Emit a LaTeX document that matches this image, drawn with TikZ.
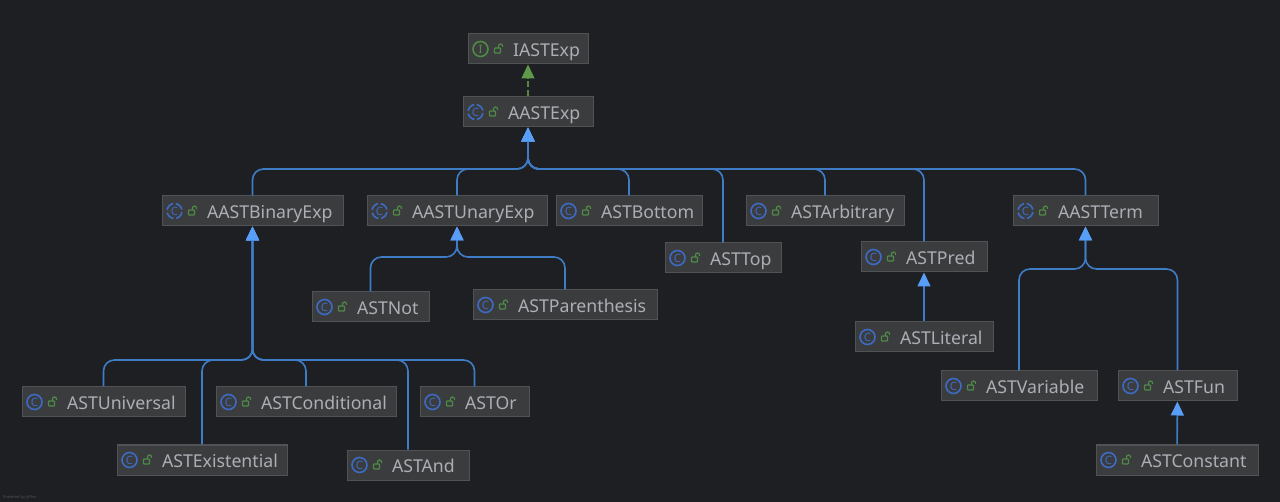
\documentclass[tikz,border=0pt]{standalone}
\usepackage{fontspec}
\setmainfont{Noto Sans}
\usepackage{xcolor}
\usetikzlibrary{arrows.meta,positioning,calc}
\definecolor{canvas}{HTML}{1E1F22}
\definecolor{boxfill}{HTML}{3B3C3E}
\definecolor{boxline}{HTML}{505256}
\definecolor{boxtext}{HTML}{ABAFB5}
\definecolor{edgeblue}{HTML}{3F7CC6}
\definecolor{tipblue}{HTML}{589DF6}
\definecolor{edgegreen}{HTML}{55853F}
\definecolor{tipgreen}{HTML}{5F9A4B}
\definecolor{iconblue}{HTML}{3D6BC4}
\definecolor{icongreen}{HTML}{4F8A46}
\tikzset{
  padlock/.pic={
    \draw[icongreen, line width=1.2pt, rounded corners=0.8pt] (-4,-1) rectangle (2,4);
    \draw[icongreen, line width=1.2pt] (0,-1) -- (0,-3) arc[start angle=180, end angle=360, radius=2] -- (4,-2);
  },
}
\begin{document}
\begin{tikzpicture}[
    x=1pt, y=-1pt,
    badge/.style={circle, draw=iconblue, text=iconblue, line width=1.6pt, inner sep=0pt, minimum size=15pt,
        font=\fontsize{11.5}{11.5}\selectfont\bfseries},
    classbox/.style={rectangle, draw=boxline, fill=boxfill, line width=1pt, inner xsep=0pt, inner ysep=0pt,
        minimum height=30pt, text height=16pt, text depth=1pt, text=boxtext,
        font=\fontsize{17.7}{20}\selectfont, execute at begin node=\hspace*{45pt}},
    extends/.style={draw=edgeblue, line width=1.6pt, rounded corners=11pt,
        -{Triangle[length=14pt, width=13pt, color=tipblue]}},
    implements/.style={draw=edgegreen, line width=1.4pt, dash pattern=on 6pt off 3pt,
        -{Triangle[length=14pt, width=13pt, color=tipgreen]}},
]
    \useasboundingbox[fill=canvas] (0,0) rectangle (1280,502);

    % Top of the hierarchy
    \node[classbox, text width=120pt] (iastexp) at (528,49) {IASTExp};
    \node[classbox, text width=130pt] (aastexp) at (528,112) {AASTExp};

    % Direct subclasses
    \node[classbox, text width=181pt] (binary) at (252.5,211) {AASTBinaryExp};
    \node[classbox, text width=180pt] (unary) at (457,211) {AASTUnaryExp};
    \node[classbox, text width=146pt] (bottom) at (629,211) {ASTBottom};
    \node[classbox, text width=116pt] (top) at (723,258) {ASTTop};
    \node[classbox, text width=158pt] (arbitrary) at (825,211) {ASTArbitrary};
    \node[classbox, text width=126pt] (pred) at (924,257) {ASTPred};
    \node[classbox, text width=145pt] (term) at (1085.5,211) {AASTTerm};

    % Subclasses of the binary expression
    \node[classbox, text width=163pt] (universal) at (103.5,402) {ASTUniversal};
    \node[classbox, text width=170pt] (existential) at (202,460) {ASTExistential};
    \node[classbox, text width=180pt] (conditional) at (306,402) {ASTConditional};
    \node[classbox, text width=122pt] (and) at (408,465) {ASTAnd};
    \node[classbox, text width=109pt] (or) at (474.5,402) {ASTOr};

    % Subclasses of the unary expression
    \node[classbox, text width=117pt] (not) at (370.5,307) {ASTNot};
    \node[classbox, text width=184pt] (parenthesis) at (565,305) {ASTParenthesis};

    % Remaining leaves
    \node[classbox, text width=138pt] (literal) at (924,337) {ASTLiteral};
    \node[classbox, text width=156pt] (variable) at (1019,386) {ASTVariable};
    \node[classbox, text width=119pt] (fun) at (1177.5,386) {ASTFun};
    \node[classbox, text width=162pt] (constant) at (1177,460) {ASTConstant};

    % Badges and locks
    \node[badge, draw=icongreen, text=icongreen] (iastexp-badge) at ([xshift=13pt]iastexp.west) {I};
    \foreach \cls in {bottom,top,arbitrary,pred,universal,existential,conditional,and,or,not,parenthesis,literal,variable,fun,constant}
        \node[badge] (\cls-badge) at ([xshift=13pt]\cls.west) {C};
    \foreach \cls in {aastexp,binary,unary,term}
        \node[badge, dash pattern=on 9pt off 2.8pt, dash phase=10.4pt] (\cls-badge) at ([xshift=13pt]\cls.west) {C};
    \foreach \cls in {iastexp,aastexp,binary,unary,bottom,top,arbitrary,pred,term,universal,existential,conditional,and,or,not,parenthesis,literal,variable,fun,constant}
        \pic at ([xshift=31pt]\cls.west) {padlock};

    % Points where the branches join
    \coordinate (joinexp) at (aastexp.south |- 0,169);
    \coordinate (joinbinary) at (binary.south |- 0,360);
    \coordinate (joinunary) at (unary.south |- 0,257);
    \coordinate (jointerm) at (term.south |- 0,269);

    % Edges
    \draw[implements] (aastexp) -- (iastexp);
    \foreach \child in {binary,unary,bottom,top,arbitrary,pred,term}
        \draw[extends] (\child.north) |- (joinexp) -- (aastexp.south);
    \foreach \child in {universal,existential,conditional,and,or}
        \draw[extends] (\child.north) |- (joinbinary) -- (binary.south);
    \foreach \child in {not,parenthesis}
        \draw[extends] (\child.north) |- (joinunary) -- (unary.south);
    \foreach \child in {variable,fun}
        \draw[extends] (\child.north) |- (jointerm) -- (term.south);
    \draw[extends] (literal) -- (pred);
    \draw[extends] (constant) -- (fun);

    \node[anchor=west, inner sep=0pt, text=boxline, font=\fontsize{4}{4}\selectfont] (credit) at (3,497) {Powered by yFiles};
\end{tikzpicture}
\end{document}
